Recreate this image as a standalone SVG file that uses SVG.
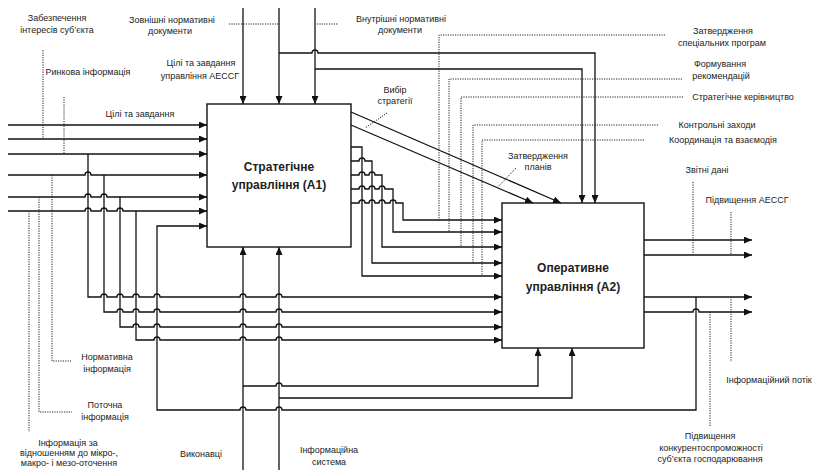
<svg xmlns="http://www.w3.org/2000/svg" width="814" height="470" viewBox="0 0 814 470">
<defs>
<marker id="arr" markerWidth="9" markerHeight="7" refX="8" refY="3.5" orient="auto" markerUnits="userSpaceOnUse">
<path d="M0,0 L8,3.5 L0,7 z" fill="#111"/>
</marker>
<style>
.ln{fill:none;stroke:#111;stroke-width:1.3}
.ar{fill:none;stroke:#111;stroke-width:1.3;marker-end:url(#arr)}
.dt{fill:none;stroke:#222;stroke-width:1;stroke-dasharray:1.2 1.2}
.box{fill:#fff;stroke:#111;stroke-width:1.4}
text{font-family:"Liberation Sans",Arial,sans-serif;font-size:9px;fill:#222;text-anchor:middle}
.tt{font-size:12px;font-weight:bold}
</style>
</defs>
<rect width="814" height="470" fill="#fff"/>
<g id="A1">
<rect class="box" x="207" y="104" width="144" height="143"/>
<text class="tt" x="279" y="171">Стратегічне</text>
<text class="tt" x="279" y="189">управління (А1)</text>
</g>
<g id="A2">
<rect class="box" x="502" y="203" width="142" height="145"/>
<text class="tt" x="573" y="272">Оперативне</text>
<text class="tt" x="573" y="291">управління (А2)</text>
</g>
<g id="connectors">
<path class="ar" d="M243,8 V104"/>
<path class="ar" d="M279,8 V104"/>
<path class="ar" d="M315,8 V104"/>
<path class="ar" d="M279,53 H312 A3,3 0 0 1 318,53 H595 V203"/>
<path class="ar" d="M315,69 H582 V203"/>
<path class="ar" d="M351,112 L561,203"/>
<path class="ar" d="M351,125 L533,203"/>
<path class="ar" d="M351,147 H362 V276 H502"/>
<path class="ar" d="M351,161 H359 A3,3 0 0 1 365,161 H372 V263 H502"/>
<path class="ar" d="M351,175 H359 A3,3 0 0 1 365,175 H369 A3,3 0 0 1 375,175 H382 V247 H502"/>
<path class="ar" d="M351,189 H359 A3,3 0 0 1 365,189 H369 A3,3 0 0 1 375,189 H379 A3,3 0 0 1 385,189 H393 V232 H502"/>
<path class="ar" d="M351,203 H359 A3,3 0 0 1 365,203 H369 A3,3 0 0 1 375,203 H379 A3,3 0 0 1 385,203 H390 A3,3 0 0 1 396,203 H403 V220 H502"/>
<path class="ar" d="M8,125 H207"/>
<path class="ar" d="M8,139 H207"/>
<path class="ar" d="M8,154 H207"/>
<path class="ar" d="M8,175 H85 A3,3 0 0 1 91,175 H207"/>
<path class="ar" d="M8,197 H85 A3,3 0 0 1 91,197 H101 A3,3 0 0 1 107,197 H207"/>
<path class="ar" d="M8,211 H85 A3,3 0 0 1 91,211 H101 A3,3 0 0 1 107,211 H117 A3,3 0 0 1 123,211 H207"/>
<path class="ar" d="M88,154 V297 H101 A3,3 0 0 1 107,297 H117 A3,3 0 0 1 123,297 H133 A3,3 0 0 1 139,297 H154 A3,3 0 0 1 160,297 H240 A3,3 0 0 1 246,297 H276 A3,3 0 0 1 282,297 H502"/>
<path class="ar" d="M104,175 V312 H117 A3,3 0 0 1 123,312 H133 A3,3 0 0 1 139,312 H154 A3,3 0 0 1 160,312 H240 A3,3 0 0 1 246,312 H276 A3,3 0 0 1 282,312 H502"/>
<path class="ar" d="M120,197 V327 H133 A3,3 0 0 1 139,327 H154 A3,3 0 0 1 160,327 H240 A3,3 0 0 1 246,327 H276 A3,3 0 0 1 282,327 H502"/>
<path class="ar" d="M136,211 V340 H154 A3,3 0 0 1 160,340 H240 A3,3 0 0 1 246,340 H276 A3,3 0 0 1 282,340 H502"/>
<path class="ar" d="M243,470 V247"/>
<path class="ar" d="M279,470 V247"/>
<path class="ar" d="M243,386 H276 A3,3 0 0 1 282,386 H538 V348"/>
<path class="ar" d="M279,398 H572 V348"/>
<path class="ar" d="M696,297 V410 H282 A3,3 0 0 0 276,410 H246 A3,3 0 0 0 240,410 H157 V226 H207"/>
<path class="ar" d="M644,240 H752"/>
<path class="ar" d="M644,255 H752"/>
<path class="ar" d="M644,297 H752"/>
<path class="ar" d="M644,312 H693 A3,3 0 0 1 699,312 H752"/>
</g>
<g id="leaders">
<path class="dt" d="M229,24 H279"/>
<path class="dt" d="M317,24 H338"/>
<path class="dt" d="M665,35 H439 V220"/>
<path class="dt" d="M682,79 H449 V232"/>
<path class="dt" d="M683,97 H461 V247"/>
<path class="dt" d="M658,125 H473 V263"/>
<path class="dt" d="M644,140 H482 V276"/>
<path class="dt" d="M387,113 L365,128"/>
<path class="dt" d="M516,168 L498,187"/>
<path class="dt" d="M43,50 V139"/>
<path class="dt" d="M64,97 V154"/>
<path class="dt" d="M52,175 V361 H71"/>
<path class="dt" d="M39,197 V412 H72"/>
<path class="dt" d="M29,211 V432"/>
<path class="dt" d="M693,182 V255"/>
<path class="dt" d="M731,212 V255"/>
<path class="dt" d="M731,297 V362"/>
<path class="dt" d="M710,312 V427"/>
</g>
<g id="labels">
<text x="57" y="21">Забезпечення</text>
<text x="57" y="33">інтересів суб’єкта</text>
<text x="172" y="23">Зовнішні нормативні</text>
<text x="170" y="34">документи</text>
<text x="88" y="75">Ринкова інформація</text>
<text x="201" y="66">Цілі та завдання</text>
<text x="200" y="79">управління АЕССГ</text>
<text x="140" y="117">Цілі та завдання</text>
<text x="401" y="22">Внутрішні нормативні</text>
<text x="400" y="33">документи</text>
<text x="395" y="93">Вибір</text>
<text x="395" y="104">стратегії</text>
<text x="723" y="34">Затвердження</text>
<text x="722" y="46">спеціальних програм</text>
<text x="720" y="67">Формування</text>
<text x="721" y="79">рекомендацій</text>
<text x="743" y="100">Стратегічне керівництво</text>
<text x="717" y="128">Контрольні заходи</text>
<text x="723" y="143">Координація та взаємодія</text>
<text x="538" y="159">Затвердження</text>
<text x="538" y="170">планів</text>
<text x="707" y="173">Звітні дані</text>
<text x="747" y="203">Підвищення АЕССГ</text>
<text x="107" y="360">Нормативна</text>
<text x="107" y="372">інформація</text>
<text x="105" y="408">Поточна</text>
<text x="105" y="420">інформація</text>
<text x="68" y="446">Інформація за</text>
<text x="69" y="456">відношенням до мікро-,</text>
<text x="69" y="466">макро- і мезо-оточення</text>
<text x="201" y="457">Виконавці</text>
<text x="329" y="453">Інформаційна</text>
<text x="329" y="465">система</text>
<text x="769" y="383">Інформаційний потік</text>
<text x="710" y="439">Підвищення</text>
<text x="711" y="451">конкурентоспроможності</text>
<text x="710" y="462">суб’єкта господарювання</text>
</g>
</svg>
